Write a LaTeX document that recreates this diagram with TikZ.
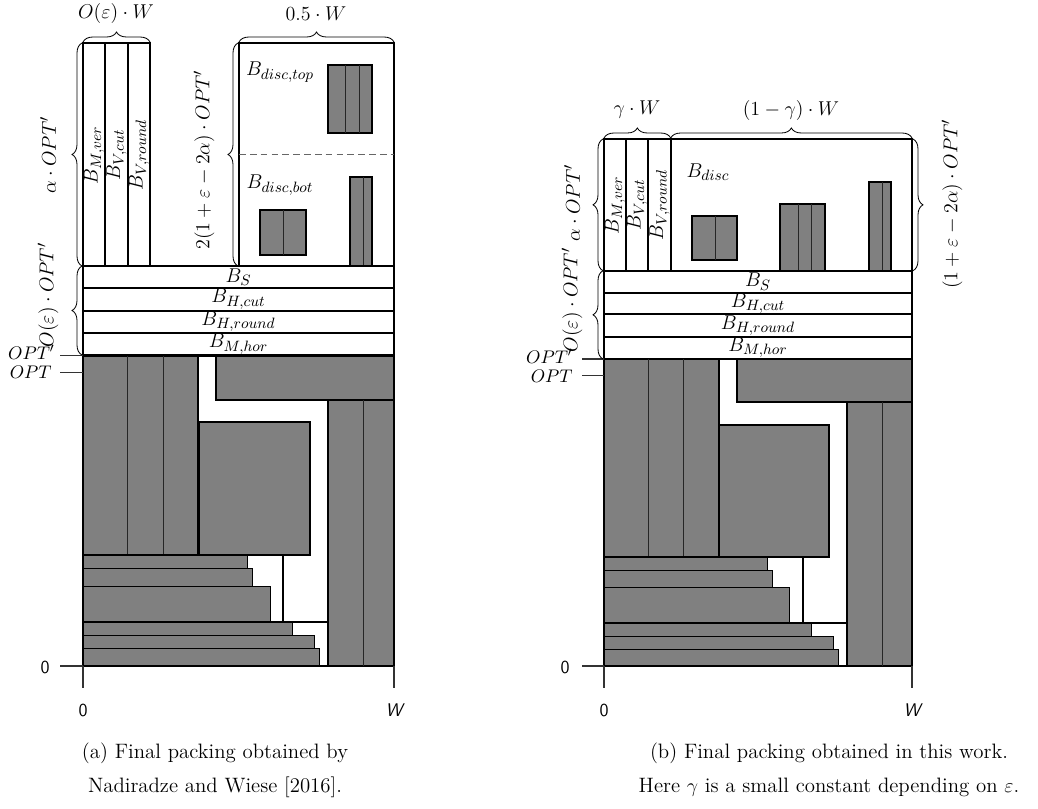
\documentclass[tikz,border=0pt]{standalone}
\usetikzlibrary{decorations.pathreplacing}
\definecolor{packgray}{HTML}{808080}
\tikzset{
  wbox/.style={draw=black, line width=1.3pt},
  gbox/.style={draw=black, fill=packgray, line width=1.3pt},
  barbox/.style={draw=black, fill=packgray, line width=0.6pt},
  sepline/.style={draw=black!85, line width=0.6pt},
  tickline/.style={draw=black!80, line width=0.7pt},
  brc/.style={decorate, decoration={brace, amplitude=6pt}, line width=0.5pt},
  lab/.style={font=\fontsize{12.5}{14}\selectfont, inner sep=0pt},
  tlab/.style={font=\fontsize{11}{13}\selectfont, inner sep=0pt},
  captext/.style={font=\fontsize{12.5}{14}\selectfont, inner sep=0pt, anchor=base},
}
\begin{document}
\begin{tikzpicture}[x=0.6pt, y=-0.6pt]
\useasboundingbox (0,0) rectangle (1038,809);

%%%%%%%%%%%%%%%% LEFT (a) %%%%%%%%%%%%%%%%
\draw[wbox] (83,43) rectangle (105.3,266);
\draw[wbox] (105.3,43) rectangle (127.7,266);
\draw[wbox] (127.7,43) rectangle (150,266);
\draw[wbox] (239,43) rectangle (394,266);
\draw[black!60, line width=0.6pt, dash pattern=on 4pt off 2.5pt] (239,154.3) -- (394,154.3);
\draw[gbox] (327.7,65.3) rectangle (372.3,132.7);
\draw[sepline] (345.3,65.3) -- (345.3,132.7) (359.3,65.3) -- (359.3,132.7);
\draw[gbox] (260.3,210) rectangle (306,255);
\draw[sepline] (283.3,210) -- (283.3,255);
\draw[gbox] (349.7,176.7) rectangle (372.3,266);
\draw[sepline] (363.3,176.7) -- (363.3,266);
\draw[wbox] (83,266) rectangle (394,287.7);
\draw[wbox] (83,287.7) rectangle (394,310.7);
\draw[wbox] (83,310.7) rectangle (394,332.7);
\draw[wbox] (83,332.7) rectangle (394,355.5);
\draw[gbox] (83,355.5) rectangle (198.3,554.7);
\draw[sepline] (127.7,355.5) -- (127.7,554.7) (163.3,355.5) -- (163.3,554.7);
\draw[gbox] (216,355.5) rectangle (394,399.7);
\draw[gbox] (328.3,399.7) rectangle (394,666);
\draw[sepline] (363.3,399.7) -- (363.3,666);
\draw[gbox] (199.3,421.7) rectangle (310,554.7);
\draw[barbox] (83,554.7) rectangle (247.7,568.3);
\draw[barbox] (83,568.3) rectangle (252.3,586);
\draw[barbox] (83,586) rectangle (270.3,621.7);
\draw[wbox] (83,554.7) rectangle (283.3,621.7);
\draw[barbox] (83,621.7) rectangle (292.3,635);
\draw[barbox] (83,635) rectangle (314.7,648.3);
\draw[barbox] (83,648.3) rectangle (319.3,666);
\draw[wbox] (83,621.7) rectangle (328.3,666);
\draw[tickline] (60,355.5) -- (83,355.5);
\draw[tickline] (60,372.7) -- (83,372.7);
\draw[tickline] (60,666) -- (83,666);
\draw[tickline] (83,666) -- (83,688);
\draw[tickline] (394,666) -- (394,688);
\node[tlab, anchor=east] (aoptp) at (55,352) {$OPT'$};
\node[tlab, anchor=east] (aopt) at (52,372) {$OPT$};
\node[tlab] (azero) at (45,667) {\sffamily 0};
\node[tlab] (ax0) at (83,710) {\sffamily 0};
\node[tlab] (axw) at (394,710) {\sffamily\itshape W};
\draw[brc] (82,266) -- (82,43);
\draw[brc] (82,355) -- (82,266);
\draw[brc] (238,266) -- (238,43);
\draw[brc] (83,42) -- (150,42);
\draw[brc] (239,42) -- (394,42);
\node[lab] (aw1) at (116,14) {$O(\varepsilon)\cdot W$};
\node[lab] (aw2) at (316,14) {$0.5\cdot W$};
\node[lab, rotate=90] (ah1) at (48,155) {$\alpha\cdot OPT'$};
\node[lab, rotate=90] (ah2) at (48,295) {$O(\varepsilon)\cdot OPT'$};
\node[lab, rotate=90] (ah3) at (204,160) {$2(1+\varepsilon-2\alpha)\cdot OPT'$};
\node[lab] (adt) at (280,72) {$B_{disc,top}$};
\node[lab] (adb) at (280,185) {$B_{disc,bot}$};
\node[lab, rotate=90] (amv) at (94,155) {$B_{M,ver}$};
\node[lab, rotate=90] (avc) at (116.5,155) {$B_{V,cut}$};
\node[lab, rotate=90] (avr) at (139,155) {$B_{V,round}$};
\node[lab] (abs) at (238.5,277) {$B_S$};
\node[lab] (ahc) at (238.5,299.2) {$B_{H,cut}$};
\node[lab] (ahr) at (238.5,321.7) {$B_{H,round}$};
\node[lab] (amh) at (238.5,344) {$B_{M,hor}$};
\node[captext] (capa1) at (215,758) {(a) Final packing obtained by};
\node[captext] (capa2) at (215,792) {Nadiradze and Wiese [2016].};

%%%%%%%%%%%%%%%% RIGHT (b) %%%%%%%%%%%%%%%%
\draw[wbox] (604,139) rectangle (626,270.7);
\draw[wbox] (626,139) rectangle (648.3,270.7);
\draw[wbox] (648.3,139) rectangle (670.7,270.7);
\draw[wbox] (670.7,139) rectangle (912,270.7);
\draw[gbox] (692.3,215.7) rectangle (737,260);
\draw[sepline] (715,215.7) -- (715,260);
\draw[gbox] (780.3,204) rectangle (825,270.7);
\draw[sepline] (798.3,204) -- (798.3,270.7) (811.7,204) -- (811.7,270.7);
\draw[gbox] (868.7,182) rectangle (891,270.7);
\draw[sepline] (882.3,182) -- (882.3,270.7);
\draw[wbox] (604,270.7) rectangle (912,292.7);
\draw[wbox] (604,292.7) rectangle (912,314.3);
\draw[wbox] (604,314.3) rectangle (912,336.7);
\draw[wbox] (604,336.7) rectangle (912,359);
\draw[gbox] (604,359) rectangle (718.7,556.7);
\draw[sepline] (648.7,359) -- (648.7,556.7) (683.7,359) -- (683.7,556.7);
\draw[gbox] (736.7,359) rectangle (912,402.3);
\draw[gbox] (846.7,402.3) rectangle (912,666);
\draw[sepline] (882,402.3) -- (882,666);
\draw[gbox] (719.3,425) rectangle (829.3,556.7);
\draw[barbox] (604,556.7) rectangle (767.3,570);
\draw[barbox] (604,570) rectangle (772,587.7);
\draw[barbox] (604,587.7) rectangle (789.3,622.7);
\draw[wbox] (604,556.7) rectangle (803.3,622.7);
\draw[barbox] (604,622.7) rectangle (811.3,636);
\draw[barbox] (604,636) rectangle (833.7,649.3);
\draw[barbox] (604,649.3) rectangle (838.3,666);
\draw[wbox] (604,622.7) rectangle (846.7,666);
\draw[tickline] (582,359) -- (604,359);
\draw[tickline] (582,375.7) -- (604,375.7);
\draw[tickline] (582,666) -- (604,666);
\draw[tickline] (604,666) -- (604,688);
\draw[tickline] (912,666) -- (912,688);
\node[tlab, anchor=east] (boptp) at (573,356) {$OPT'$};
\node[tlab, anchor=east] (bopt) at (573,376.5) {$OPT$};
\node[tlab] (bzero) at (565,667) {\sffamily 0};
\node[tlab] (bx0) at (604,710) {\sffamily 0};
\node[tlab] (bxw) at (912,710) {\sffamily\itshape W};
\draw[brc] (603,270.7) -- (603,139);
\draw[brc] (603,359) -- (603,270.7);
\draw[brc] (913,139) -- (913,270.7);
\draw[brc] (604,138) -- (670.7,138);
\draw[brc] (670.7,138) -- (912,138);
\node[lab] (bw1) at (637,110) {$\gamma\cdot W$};
\node[lab] (bw2) at (791,110) {$(1-\gamma)\cdot W$};
\node[lab, rotate=90] (bh1) at (572,203) {$\alpha\cdot OPT'$};
\node[lab, rotate=90] (bh2) at (572,300) {$O(\varepsilon)\cdot OPT'$};
\node[lab, rotate=90] (bh3) at (952,204) {$(1+\varepsilon-2\alpha)\cdot OPT'$};
\node[lab] (bd) at (708,172) {$B_{disc}$};
\node[lab, rotate=90] (bmv) at (615,205) {$B_{M,ver}$};
\node[lab, rotate=90] (bvc) at (637,205) {$B_{V,cut}$};
\node[lab, rotate=90] (bvr) at (659.5,205) {$B_{V,round}$};
\node[lab] (bbs) at (758,281.7) {$B_S$};
\node[lab] (bhc) at (758,303.5) {$B_{H,cut}$};
\node[lab] (bhr) at (758,325.5) {$B_{H,round}$};
\node[lab] (bmh) at (758,347.8) {$B_{M,hor}$};
\node[captext] (capb1) at (829,758) {(b) Final packing obtained in this work.};
\node[captext] (capb2) at (829,792) {Here $\gamma$ is a small constant depending on $\varepsilon$.};
\end{tikzpicture}
\end{document}
